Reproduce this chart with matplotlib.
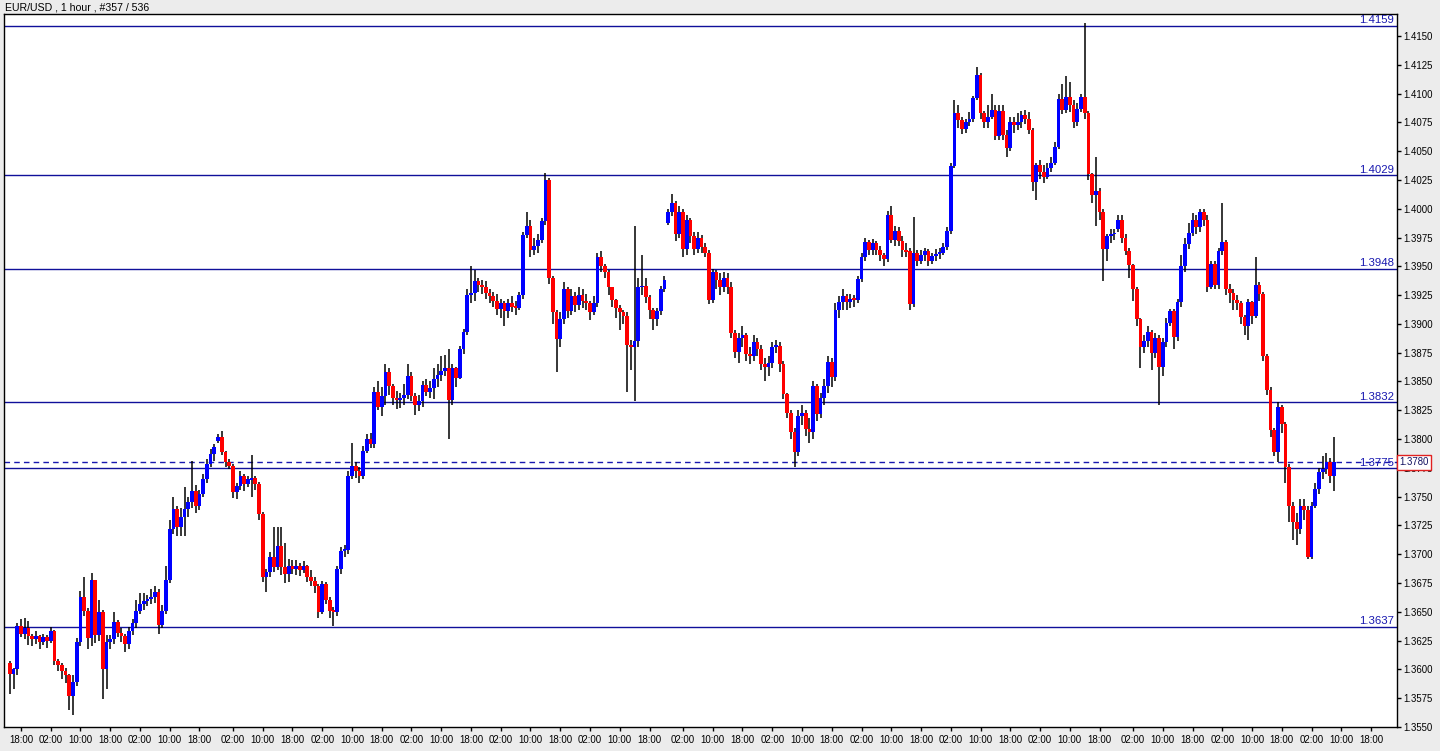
import matplotlib
matplotlib.use("Agg")
import matplotlib.pyplot as plt
import matplotlib.transforms as mtransforms

plt.rcParams['font.family'] = ['Liberation Sans', 'DejaVu Sans']

# ---------------- data (prices in pips above BASE) ----------------
BASE = 1.3500
PIP = 0.0001
title = "EUR/USD , 1 hour , #357 / 536"

first_open = 106
gap_opens = {56: 298, 177: 488, 298: 482}   # opens after weekend gaps

closes = [
    96,100,138,131,136,129,126,129,124,128,125,133,107,104,99,95,77,89,124,163,
    151,127,178,130,150,100,124,126,141,132,129,122,133,140,151,157,159,161,163,167,
    139,151,178,222,239,224,232,239,245,255,242,252,265,278,287,293,302,289,280,277,
    254,259,268,261,265,266,261,235,180,185,198,189,207,189,183,190,187,190,186,190,
    180,177,172,150,174,160,151,150,187,203,204,268,277,272,268,290,300,296,341,328,
    337,358,346,336,334,336,338,355,337,330,333,347,341,344,352,356,359,362,334,362,
    353,378,393,425,427,437,434,432,427,424,420,413,418,411,418,415,414,425,477,485,
    464,468,473,489,525,440,410,387,404,430,411,424,416,425,420,418,410,418,458,450,
    445,432,421,414,410,407,382,380,385,432,433,423,412,404,411,430,438,497,505,478,
    497,465,490,476,465,475,467,462,421,445,438,432,440,432,392,376,388,390,374,372,
    384,378,365,363,366,380,381,365,339,323,306,289,320,323,309,306,346,322,336,346,
    367,354,412,419,424,419,422,421,439,458,471,464,470,464,460,456,495,473,481,472,
    464,463,417,462,455,460,463,455,459,461,462,467,481,537,583,577,569,575,578,596,
    616,583,575,580,586,563,585,564,553,575,573,575,581,578,568,523,538,532,528,535,
    540,554,595,586,597,590,575,587,597,583,530,512,515,497,465,476,478,479,490,475,
    463,451,430,404,380,385,393,375,388,363,384,401,411,389,419,450,469,479,490,484,
    497,490,432,452,434,463,471,430,427,421,418,406,398,419,407,434,426,372,343,308,
    289,328,313,276,242,228,222,242,238,198,242,257,271,274,280,268,280,
]
highs = [
    107,101,140,144,145,142,131,133,130,131,130,137,134,109,106,101,96,95,127,168,
    180,153,184,178,160,152,130,130,150,143,136,131,137,144,160,166,166,165,170,172,
    170,156,190,230,250,242,240,258,250,281,260,256,270,283,291,296,304,307,290,283,
    278,262,272,270,268,286,268,263,237,187,202,224,224,224,210,196,195,195,192,194,
    191,186,180,174,177,176,163,154,190,206,208,272,297,280,276,294,304,305,345,350,
    345,365,362,348,342,340,348,365,358,340,338,350,352,350,362,365,372,373,378,365,
    363,381,396,430,450,447,440,438,437,430,428,426,422,420,422,424,420,428,480,497,
    490,475,478,492,531,527,442,412,410,436,432,430,428,432,430,426,420,424,462,463,
    452,447,432,422,416,412,410,386,485,440,460,440,425,414,414,433,442,500,513,507,
    502,500,495,492,480,480,477,470,464,448,447,444,445,444,436,395,392,398,392,380,
    390,388,382,370,372,384,386,384,368,340,325,310,325,330,325,318,350,348,340,352,
    372,370,418,424,430,426,426,425,442,462,475,473,474,472,468,462,498,502,485,484,
    476,470,466,493,464,464,466,465,462,465,466,470,484,540,594,590,580,578,584,598,
    623,618,585,590,600,590,590,590,568,580,580,583,585,586,584,570,540,542,538,540,
    545,558,600,608,615,610,594,592,600,661,585,531,545,518,500,478,482,482,495,495,
    478,466,452,432,405,390,398,395,392,390,388,405,413,413,422,460,475,488,496,495,
    500,500,495,455,455,466,505,473,435,430,425,420,408,422,420,458,436,428,374,345,
    310,332,330,315,278,245,236,248,248,242,245,262,275,285,288,284,302,
]
lows = [
    79,83,95,128,126,121,120,122,118,121,119,123,104,99,92,88,65,60,86,120,
    146,118,120,123,125,74,83,118,122,128,124,115,118,130,136,148,152,155,157,158,
    131,136,148,175,218,216,216,216,232,240,236,238,250,262,276,281,297,286,276,274,
    249,248,256,255,258,250,256,230,176,167,180,185,186,182,175,176,183,182,181,184,
    176,172,166,145,148,157,145,138,146,183,198,200,265,266,262,265,288,292,292,325,
    320,330,338,330,326,327,330,335,333,321,324,328,337,336,335,345,350,355,300,330,
    345,352,374,390,418,420,428,426,422,418,415,408,405,398,405,410,408,412,422,475,
    458,460,462,470,486,435,400,358,380,400,405,408,410,412,414,412,403,408,415,445,
    440,425,415,405,395,400,341,360,333,380,425,418,404,395,398,408,428,486,494,472,
    475,458,460,470,460,462,462,458,417,418,430,425,428,426,388,370,366,380,368,365,
    368,372,360,350,355,362,375,358,335,318,300,276,285,312,303,297,300,316,318,330,
    340,345,350,405,412,412,414,415,418,436,455,460,460,460,455,450,454,470,468,468,
    458,458,412,415,450,452,455,450,452,455,456,460,464,478,535,570,565,566,572,575,
    594,578,570,570,578,560,560,560,545,550,566,568,570,574,565,515,508,526,522,526,
    532,538,552,582,583,584,570,572,584,578,525,505,485,490,437,455,470,473,480,470,
    460,440,420,398,362,375,380,360,370,330,355,380,398,378,385,415,445,465,476,478,
    480,485,428,430,430,430,460,425,418,412,412,400,390,386,400,405,420,368,338,302,
    285,280,305,262,228,212,208,218,230,196,196,240,252,265,270,262,255,
]

levels = [1.4159, 1.4029, 1.3948, 1.3832, 1.3775, 1.3637]
current_price = 1.3780

# time axis: (first tick bar, last tick bar, index of first label in cycle)
time_cycle = ["18:00", "02:00", "10:00"]
tick_weeks = [(3, 51, 0), (60, 172, 1), (181, 293, 1), (302, 366, 1)]

# ---------------- build OHLC ----------------
n = len(closes)
opens = []
for i in range(n):
    if i == 0:
        opens.append(first_open)
    elif i in gap_opens:
        opens.append(gap_opens[i])
    else:
        opens.append(closes[i - 1])

def px(v):
    return BASE + v * PIP

O = [px(v) for v in opens]
C = [px(v) for v in closes]
Hh = [max(px(h), o, c) for h, o, c in zip(highs, O, C)]
Ll = [min(px(l), o, c) for l, o, c in zip(lows, O, C)]

# ---------------- figure ----------------
W, H = 1440, 751
BG = '#ececec'
fig = plt.figure(figsize=(W / 100, H / 100), dpi=100, facecolor=BG)
left, right, top, bottom = 4, 1397, 14, 727
ax = fig.add_axes([left / W, (H - bottom) / H, (right - left) / W, (bottom - top) / H])
ax.set_facecolor('white')

XMIN, XMAX = -1.56, 372.98
YMIN, YMAX = 1.35511, 1.41691
ax.set_xlim(XMIN, XMAX)
ax.set_ylim(YMIN, YMAX)

# horizontal levels
LINE_C = '#10109a'
for lv in levels:
    ax.axhline(lv, color=LINE_C, lw=1.0, zorder=1)
    ax.text(XMAX - 0.9, lv + 0.00003, f"{lv:.4f}", ha='right', va='bottom',
            color='#1818b0', fontsize=8.2, zorder=5)
ax.axhline(current_price, color='#1818b0', lw=1.0, dashes=(4, 3), zorder=1)

# candles
xs = list(range(n))
ax.vlines(xs, Ll, Hh, color='black', lw=1.1, zorder=2)
min_h = 0.00016
bw = 1.0
for i in range(n):
    o, c = O[i], C[i]
    col = '#0000ff' if c >= o else '#ff0000'
    b = min(o, c)
    h = max(abs(c - o), min_h)
    if abs(c - o) < min_h:
        b = (o + c) / 2 - min_h / 2
    ax.bar(i, h, bottom=b, width=bw, color=col, lw=0, zorder=3)

# right price axis
ax.yaxis.tick_right()
yt = [round(1.3550 + 0.0025 * k, 4) for k in range(25)]
ax.set_yticks(yt)
ax.set_yticklabels([f"{v:.4f}" for v in yt])
ax.tick_params(axis='y', colors='black', labelsize=6.9, length=3, width=1, pad=1.5)
for t in ax.yaxis.get_ticklines():
    t.set_color('#d01010')

# time axis
tpos, tlab = [], []
for start, stop, c0 in tick_weeks:
    k = 0
    for p in range(start, stop + 1, 8):
        tpos.append(p)
        tlab.append(time_cycle[(c0 + k) % 3])
        k += 1
ax.set_xticks(tpos)
ax.set_xticklabels(tlab)
ax.tick_params(axis='x', colors='black', labelsize=7.0, length=3, width=1, pad=2.5)
for t in ax.xaxis.get_ticklines():
    t.set_color('#d01010')

for s in ax.spines.values():
    s.set_color('black')
    s.set_linewidth(1.0)

# current price box on axis (covers the 1.3775 tick label as in the original)
trans = mtransforms.blended_transform_factory(ax.transAxes, ax.transData)
ax.text(1.0018, current_price, f"{current_price:.4f}", transform=trans,
        ha='left', va='center', fontsize=6.9, color='#101060', clip_on=False,
        zorder=10,
        bbox=dict(facecolor='white', edgecolor='#e02020', boxstyle='square,pad=0.25', lw=1))

fig.text(5 / W, 1 - 7 / H, title, ha='left', va='center', fontsize=7.6, color='black')

fig.savefig('out.png', dpi=100, facecolor=BG)
